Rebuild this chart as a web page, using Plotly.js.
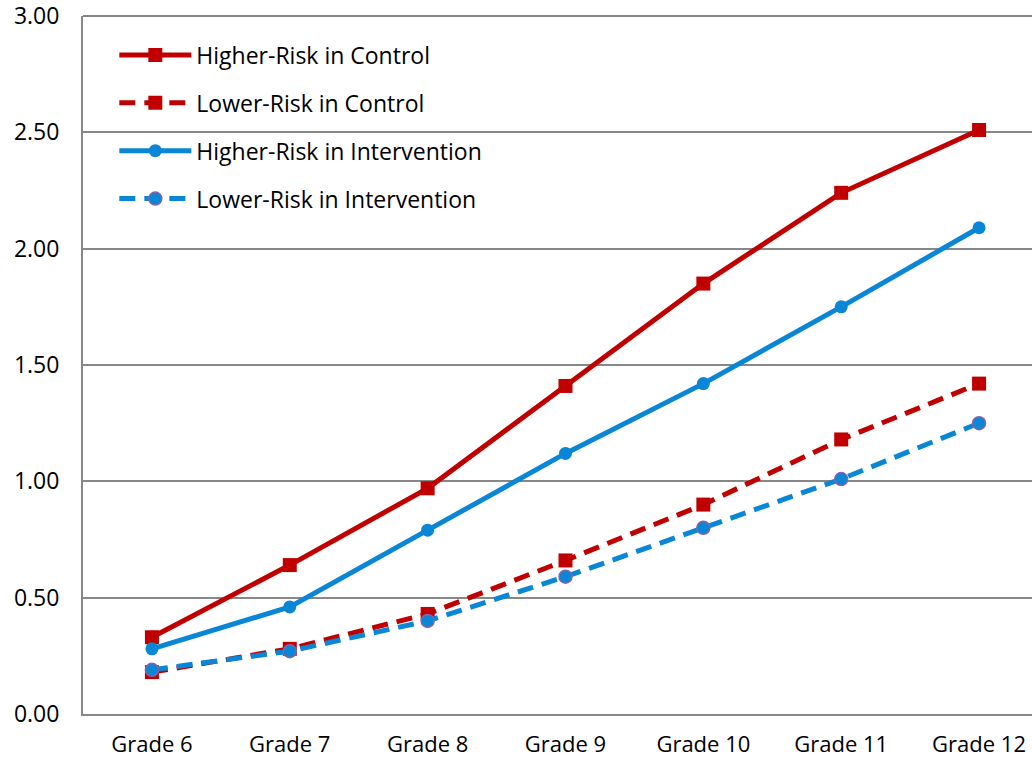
<!DOCTYPE html>
<html>
<head>
<meta charset="utf-8">
<script src="https://cdn.plot.ly/plotly-3.0.1.min.js"></script>
<style>
  html, body { margin: 0; padding: 0; background: #fff; }
  #chart { width: 1032px; height: 761px; }
</style>
</head>
<body>
<div id="chart"></div>
<script>
// Grade levels on the horizontal axis
const grades = ["Grade 6", "Grade 7", "Grade 8", "Grade 9", "Grade 10", "Grade 11", "Grade 12"];

// Mean scores per group
const higherRiskControl      = [0.33, 0.64, 0.97, 1.41, 1.85, 2.24, 2.51];
const lowerRiskControl       = [0.18, 0.28, 0.43, 0.66, 0.90, 1.18, 1.42];
const higherRiskIntervention = [0.28, 0.46, 0.79, 1.12, 1.42, 1.75, 2.09];
const lowerRiskIntervention  = [0.19, 0.27, 0.40, 0.59, 0.80, 1.01, 1.25];

// Y-axis ticks
const yTickVals  = [0, 0.5, 1, 1.5, 2, 2.5, 3];
const yTickTexts = ["0.00", "0.50", "1.00", "1.50", "2.00", "2.50", "3.00"];

const RED = "#C00000";
const BLUE = "#0A86D6";
const GRID = "#878787";
const FONT = "Open Sans, sans-serif";

const traces = [
  {
    name: "Higher-Risk in Control", x: grades, y: higherRiskControl,
    mode: "lines+markers", legendgroup: "a",
    line: { color: RED, width: 5 },
    marker: { symbol: "square", size: 14, color: RED }
  },
  {
    name: "Lower-Risk in Control", x: grades, y: lowerRiskControl,
    mode: "lines+markers", legendgroup: "b",
    line: { color: RED, width: 5, dash: "16px,9px" },
    marker: { symbol: "square", size: 14, color: RED }
  },
  {
    name: "Higher-Risk in Intervention", x: grades, y: higherRiskIntervention,
    mode: "lines+markers", legendgroup: "c",
    line: { color: BLUE, width: 5 },
    marker: { symbol: "circle", size: 13, color: BLUE }
  },
  {
    name: "Lower-Risk in Intervention", x: grades, y: lowerRiskIntervention,
    mode: "lines+markers", legendgroup: "d",
    line: { color: BLUE, width: 5, dash: "16px,9px" },
    marker: { symbol: "circle", size: 13, color: BLUE, line: { color: "#8A62A8", width: 1.5 } }
  }
];

const layout = {
  width: 1032, height: 761,
  margin: { l: 83, r: 0, t: 16, b: 47 },
  paper_bgcolor: "#fff", plot_bgcolor: "#fff",
  font: { family: FONT, size: 22, color: "#000" },
  showlegend: true,
  legend: {
    x: 0.033, y: 0.975, xanchor: "left", yanchor: "top",
    bgcolor: "rgba(0,0,0,0)",
    font: { family: FONT, size: 23, color: "#000" },
    tracegroupgap: 15,
    itemwidth: 72
  },
  xaxis: {
    type: "category",
    range: [-0.5, 6.384],
    showgrid: false,
    showline: true, linecolor: GRID, linewidth: 2,
    ticks: "", ticklabelstandoff: 10,
    ticklabeloverflow: "allow",
    tickfont: { family: FONT, size: 22, color: "#000" },
    zeroline: false, fixedrange: true
  },
  yaxis: {
    range: [0, 3],
    tickvals: yTickVals, ticktext: yTickTexts,
    showgrid: true, gridcolor: GRID, gridwidth: 1.8,
    showline: true, linecolor: GRID, linewidth: 2, mirror: false,
    ticks: "", ticklabelstandoff: 17,
    ticklabeloverflow: "allow",
    tickfont: { family: FONT, size: 23, color: "#000" },
    zeroline: false, fixedrange: true
  },
  shapes: [
    { type: "line", xref: "paper", yref: "paper", x0: 0, x1: 1, y0: 1, y1: 1,
      line: { color: GRID, width: 2 } }
  ]
};

Plotly.newPlot("chart", traces, layout, { displayModeBar: false, staticPlot: true });
</script>
</body>
</html>
